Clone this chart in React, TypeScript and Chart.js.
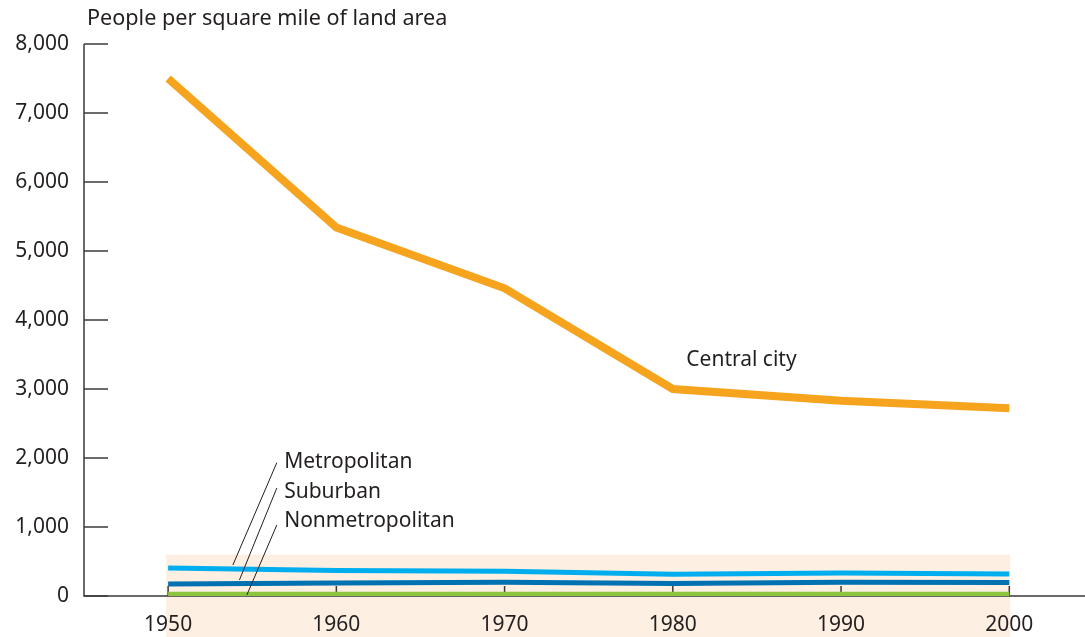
import React, { useEffect, useRef } from "react";
import { Chart, registerables } from "chart.js";

Chart.register(...registerables);

const years = [1950, 1960, 1970, 1980, 1990, 2000];
const centralCity = [7500, 5340, 4460, 3000, 2830, 2720];
const metropolitan = [407, 370, 360, 315, 333, 320];
const suburban = [174, 190, 200, 180, 200, 195];
const nonmetropolitan = [25, 25, 25, 25, 25, 25];
const yTicks = [0, 1000, 2000, 3000, 4000, 5000, 6000, 7000, 8000];
const xTicks = [1950, 1960, 1970, 1980, 1990, 2000];
const axisTitle = "People per square mile of land area";
const seriesLabels = ["Central city", "Metropolitan", "Suburban", "Nonmetropolitan"];

const FONT = "'Noto Sans', sans-serif";
const FS = 21;
const TEXT = "#231f20";
const AXIS = "#3a3a3a";

const annotationPlugin = {
  id: "annot",
  beforeDraw(chart: any) {
    const { ctx, scales } = chart;
    const x = scales.x;
    const y = scales.y;
    ctx.save();
    const bx0 = x.getPixelForValue(1950);
    const bx1 = x.getPixelForValue(2000);
    const by0 = y.getPixelForValue(600);
    ctx.fillStyle = "#fdefe1";
    ctx.fillRect(bx0 - 2, by0, bx1 - bx0 + 3, chart.height - by0);
    ctx.restore();
  },
  beforeDatasetsDraw(chart: any) {
    const { ctx, scales, chartArea } = chart;
    const x = scales.x;
    const y = scales.y;
    ctx.save();
    ctx.strokeStyle = AXIS;
    ctx.lineWidth = 1.5;
    ctx.beginPath();
    ctx.moveTo(chartArea.left, y.getPixelForValue(8000));
    ctx.lineTo(chartArea.left, chartArea.bottom);
    ctx.lineTo(chartArea.right, chartArea.bottom);
    ctx.stroke();
    yTicks.forEach((v) => {
      const py = y.getPixelForValue(v);
      ctx.beginPath();
      ctx.moveTo(chartArea.left, py);
      ctx.lineTo(chartArea.left + 24, py);
      ctx.stroke();
    });
    xTicks.forEach((v) => {
      const px = x.getPixelForValue(v);
      ctx.beginPath();
      ctx.moveTo(px, chartArea.bottom);
      ctx.lineTo(px, chartArea.bottom - 10);
      ctx.stroke();
    });
    ctx.restore();
  },
  afterDatasetsDraw(chart: any) {
    const { ctx, scales } = chart;
    const x = scales.x;
    const y = scales.y;
    ctx.save();
    ctx.fillStyle = TEXT;
    ctx.textBaseline = "middle";
    ctx.textAlign = "left";
    ctx.font = `21.6px ${FONT}`;
    ctx.fillText(axisTitle, 87, 19);
    ctx.font = `${FS}px ${FONT}`;
    ctx.fillText(seriesLabels[0], x.getPixelForValue(1980.8), y.getPixelForValue(3420));
    ctx.fillText(seriesLabels[1], x.getPixelForValue(1956.9), y.getPixelForValue(1940));
    ctx.fillText(seriesLabels[2], x.getPixelForValue(1956.9), y.getPixelForValue(1510));
    ctx.fillText(seriesLabels[3], x.getPixelForValue(1956.9), y.getPixelForValue(1090));
    ctx.strokeStyle = "#231f20";
    ctx.lineWidth = 1;
    const leaders = [
      [1956.46, 1932, 1953.85, 449],
      [1956.46, 1565, 1954.24, 232],
      [1956.46, 1029, 1954.68, 14],
    ];
    leaders.forEach(([x0, y0, x1, y1]) => {
      ctx.beginPath();
      ctx.moveTo(x.getPixelForValue(x0), y.getPixelForValue(y0));
      ctx.lineTo(x.getPixelForValue(x1), y.getPixelForValue(y1));
      ctx.stroke();
    });
    ctx.restore();
  },
};

export default function App() {
  const ref = useRef<HTMLCanvasElement>(null);
  useEffect(() => {
    if (!ref.current) return;
    const mk = (label: string, data: number[], color: string, w: number) => ({
      label,
      data: years.map((yr, i) => ({ x: yr, y: data[i] })),
      borderColor: color,
      backgroundColor: color,
      borderWidth: w,
      pointRadius: 0,
      tension: 0,
      borderCapStyle: "butt",
      borderJoinStyle: "miter",
    });
    const chart = new Chart(ref.current, {
      type: "line",
      data: {
        datasets: [
          mk("Central city", centralCity, "#f6a31d", 8),
          mk("Metropolitan", metropolitan, "#00aeef", 5),
          mk("Suburban", suburban, "#0072b1", 5),
          mk("Nonmetropolitan", nonmetropolitan, "#8cc63f", 5),
        ] as any,
      },
      options: {
        animation: false,
        responsive: false,
        maintainAspectRatio: false,
        layout: { padding: { top: 44, right: 0, left: 0, bottom: 0 } },
        plugins: { legend: { display: false }, tooltip: { enabled: false } },
        scales: {
          x: {
            type: "linear",
            min: 1945,
            max: 2004.5,
            afterBuildTicks: (s: any) => {
              s.ticks = xTicks.map((v) => ({ value: v }));
            },
            afterFit: (s: any) => {
              s.height = 41;
            },
            grid: { display: false, drawTicks: false },
            border: { display: false },
            ticks: {
              color: TEXT,
              font: { family: FONT, size: FS },
              padding: 16,
              maxRotation: 0,
              autoSkip: false,
              callback: (v: any) => String(v),
            },
          },
          y: {
            min: 0,
            max: 8000,
            afterBuildTicks: (s: any) => {
              s.ticks = yTicks.map((v) => ({ value: v }));
            },
            afterFit: (s: any) => {
              s.width = 84;
            },
            grid: { display: false, drawTicks: false },
            border: { display: false },
            ticks: {
              color: TEXT,
              font: { family: FONT, size: FS },
              padding: 15,
              callback: (v: any) => Number(v).toLocaleString("en-US"),
            },
          },
        },
      },
      plugins: [annotationPlugin],
    });
    return () => chart.destroy();
  }, []);
  return (
    <div style={{ position: "fixed", left: 0, top: 0, width: 1085, height: 637, background: "#fff" }}>
      <canvas ref={ref} width={1085} height={637} style={{ width: 1085, height: 637 }} />
    </div>
  );
}
